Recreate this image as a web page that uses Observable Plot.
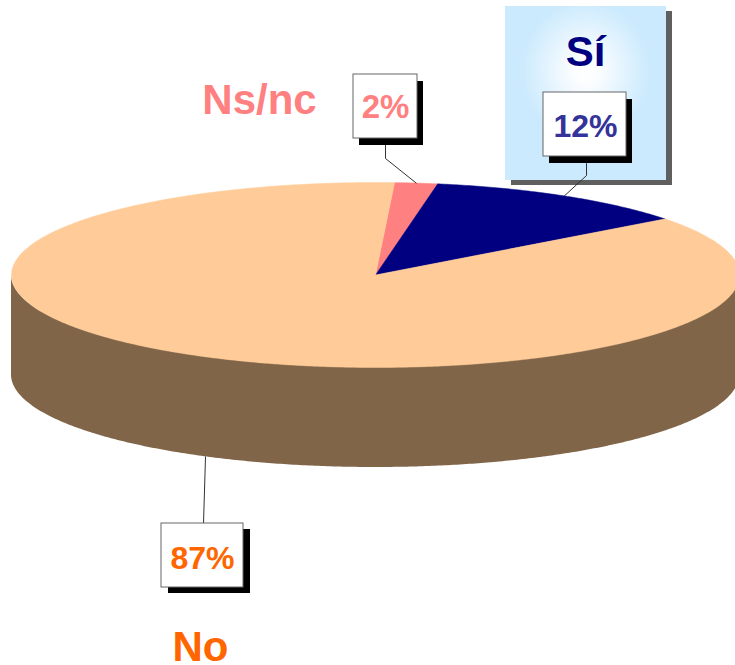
<!DOCTYPE html>
<html>
<head>
<meta charset="utf-8">
<script src="https://cdn.jsdelivr.net/npm/d3@7"></script>
<script src="https://cdn.jsdelivr.net/npm/@observablehq/plot@0.6"></script>
<style>html,body{margin:0;padding:0;background:#fff}svg{display:block}</style>
</head>
<body>
<div id="chart"></div>
<script>
// Data: clockwise from the top of the pie
const categories = ["Ns/nc", "Sí", "No"];
const shares = [1.9, 11.9, 86.2];
const percentLabels = ["2%", "12%", "87%"];
const sliceColors = ["#ff8080", "#000080", "#ffcc99"];
const labelColors = ["#ff8080", "#333399", "#ff6600"];
const nameColors = ["#ff8080", "#000080", "#ff6600"];

// Layout of the annotations, in pixels
const pie = {cx: 375, cy: 274.5, rx: 364, ry: 92.5, depth: 100, start: 3};
const boxes = [
  {x1: 353, x2: 417, y1: 74, y2: 138, sx: 6, sy: 7, tx: 385, ty: 107, size: 33, elbow: [385, 158], anchor: [385, 145]},
  {x1: 543, x2: 626, y1: 92, y2: 156, sx: 6, sy: 7, tx: 585, ty: 126, size: 32, elbow: [586, 175], anchor: [586, 163]},
  {x1: 161, x2: 243, y1: 523, y2: 587, sx: 7, sy: 6, tx: 202, ty: 558, size: 32, elbow: null, anchor: [203, 523]}
];
const namePositions = [[259, 100], [585, 52], [200, 647]];
const panel = {x1: 505, x2: 666, y1: 6, y2: 180, sx: 6, sy: 5};

const pt = (deg, dy = 0) => {
  const t = deg * Math.PI / 180;
  return {x: pie.cx + pie.rx * Math.sin(t), y: pie.cy - pie.ry * Math.cos(t) + dy};
};

// Slice polygons and leader targets, derived from the shares
const total = d3.sum(shares);
let angle = pie.start;
const slicePts = [], leaderPts = [];
categories.forEach((c, i) => {
  const a0 = angle, a1 = angle + shares[i] / total * 360;
  slicePts.push({name: c, x: pie.cx, y: pie.cy});
  for (let a = a0; a < a1; a += 0.5) slicePts.push({name: c, ...pt(a)});
  slicePts.push({name: c, ...pt(a1)});
  slicePts.push({name: c, x: pie.cx, y: pie.cy});
  const mid = (a0 + a1) / 2;
  const onWall = Math.cos(mid * Math.PI / 180) < 0;
  const end = pt(mid, onWall ? pie.depth : 0);
  const b = boxes[i];
  const path = [b.anchor, ...(b.elbow ? [b.elbow] : []), [end.x, end.y]];
  path.forEach(p => leaderPts.push({name: c, x: p[0], y: p[1]}));
  angle = a1;
});

const wall = d3.range(90, 270.5, 0.5).map(a => {
  const p = pt(a);
  return {x: p.x, y1: p.y, y2: p.y + pie.depth};
});

const font = "'Liberation Sans', Arial, sans-serif";
const defs = () => {
  const s = d3.create("svg:defs");
  const g = s.append("radialGradient").attr("id", "panelGlow")
    .attr("cx", 0.5).attr("cy", 0.37).attr("r", 0.4);
  g.append("stop").attr("offset", "0%").attr("stop-color", "#ffffff");
  g.append("stop").attr("offset", "20%").attr("stop-color", "#fbfdff");
  g.append("stop").attr("offset", "100%").attr("stop-color", "#cbeafd");
  return s.node();
};

const plot = Plot.plot({
  width: 735, height: 665,
  margin: 0,
  style: {background: "#fff"},
  x: {domain: [0, 735], range: [0, 735], axis: null},
  y: {domain: [0, 665], range: [0, 665], axis: null},
  marks: [
    defs,
    // Sí panel
    Plot.rect([panel], {x1: d => d.x1 + d.sx, x2: d => d.x2 + d.sx, y1: d => d.y1 + d.sy, y2: d => d.y2 + d.sy, fill: "#5f5f5f"}),
    Plot.rect([panel], {x1: "x1", x2: "x2", y1: "y1", y2: "y2", fill: "url(#panelGlow)"}),
    // Pie wall and top
    Plot.areaY(wall, {x: "x", y1: "y1", y2: "y2", fill: "#806548"}),
    ...categories.map((c, i) => Plot.line(slicePts.filter(d => d.name === c), {
      x: "x", y: "y", fill: sliceColors[i], stroke: sliceColors[i], strokeWidth: 0.5, curve: "linear"
    })),
    // Leader lines
    Plot.line(leaderPts, {x: "x", y: "y", z: "name", stroke: "#333", strokeWidth: 1}),
    // Label boxes
    Plot.rect(boxes, {x1: d => d.x1 + d.sx, x2: d => d.x2 + d.sx, y1: d => d.y1 + d.sy, y2: d => d.y2 + d.sy, fill: "#000"}),
    Plot.rect(boxes, {x1: "x1", x2: "x2", y1: "y1", y2: "y2", fill: "#fff", stroke: "#666", strokeWidth: 1}),
    // Percent labels
    ...percentLabels.map((d, i) => Plot.text([d], {
      x: () => boxes[i].tx, y: () => boxes[i].ty,
      text: t => t, fill: labelColors[i], fontSize: boxes[i].size, fontWeight: "bold", fontFamily: font,
      textAnchor: "middle", lineAnchor: "middle"
    })),
    // Category names
    Plot.text(categories, {
      x: (d, i) => namePositions[i][0], y: (d, i) => namePositions[i][1],
      text: d => d, fill: (d, i) => nameColors[i], fontSize: 42, fontWeight: "bold", fontFamily: font,
      textAnchor: "middle", lineAnchor: "middle"
    })
  ]
});
document.getElementById("chart").appendChild(plot);
</script>
</body>
</html>
